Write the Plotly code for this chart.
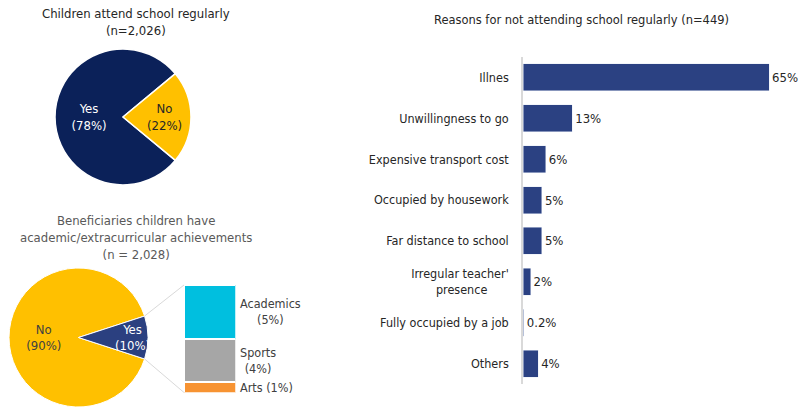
import math
import plotly.graph_objects as go

W, H = 798, 407
FONT = "DejaVu Sans Condensed, Liberation Sans, sans-serif"

# ---- data ----
attend_labels = ["Yes", "No"]
attend_values = [78, 22]

achieve_labels = ["No", "Yes"]
achieve_values = [90, 10]

yes_break_labels = ["Arts", "Sports", "Academics"]
yes_break_values = [1, 4, 5]

reasons = ["Illnes", "Unwillingness to go", "Expensive transport cost",
           "Occupied by housework", "Far distance to school",
           "Irregular teacher'<br>presence" + "\u00a0" * 6, "Fully occupied by a job", "Others"]
reason_values = [65, 13, 6, 5, 5, 2, 0.2, 4]


def X(px):
    return px / W


def Y(py):
    return 1 - py / H


fig = go.Figure()

# ---- top pie ----
rot_top = 270 - attend_values[0] / sum(attend_values) * 180
fig.add_trace(go.Pie(
    labels=attend_labels, values=attend_values, sort=False,
    direction="clockwise", rotation=rot_top,
    marker=dict(colors=["#0B2159", "#FFC000"], line=dict(color="white", width=1.5)),
    texttemplate="%{label}<br>(%{value}%)", textposition="inside",
    insidetextorientation="horizontal",
    insidetextfont=dict(color=["white", "#262626"], size=13, family=FONT),
    domain=dict(x=[X(55), X(191)], y=[Y(185), Y(49)]),
    showlegend=False, hoverinfo="label+percent",
))

# ---- bottom pie ----
pie2_cx, pie2_cy, pie2_r = 78.5, 337.5, 69.5
rot_bot = 270 - achieve_values[0] / sum(achieve_values) * 180
fig.add_trace(go.Pie(
    labels=achieve_labels, values=achieve_values, sort=False,
    direction="clockwise", rotation=rot_bot,
    marker=dict(colors=["#FFC000", "#2B4080"], line=dict(color="white", width=1)),
    texttemplate="%{label}<br>(%{value}%)", textposition="inside",
    insidetextorientation="horizontal",
    insidetextfont=dict(color=["#404040", "white"], size=13, family=FONT),
    domain=dict(x=[X(pie2_cx - pie2_r), X(pie2_cx + pie2_r)], y=[0, Y(pie2_cy - pie2_r)]),
    showlegend=False, hoverinfo="label+percent",
))

# ---- bar of pie (stacked) ----
seg_colors = {"Arts": "#F79332", "Sports": "#A6A6A6", "Academics": "#00BFDF"}
for lab, val in zip(yes_break_labels, yes_break_values):
    fig.add_trace(go.Bar(
        x=["Yes"], y=[val], name=lab, marker=dict(color=seg_colors[lab], line=dict(color="white", width=1.5)),
        xaxis="x2", yaxis="y2", showlegend=False, width=1,
    ))

bar_x0, bar_x1 = 184, 235.5
bar_top_py, bar_bot_py = 285, 392.5
total_yes = sum(yes_break_values)

# ---- right bar chart ----
fig.add_trace(go.Bar(
    y=reasons, x=reason_values, orientation="h",
    marker=dict(color="#2B4182"),
    texttemplate="%{x}%", textposition="outside", cliponaxis=False,
    textfont=dict(size=12, color="#262626", family=FONT),
    xaxis="x3", yaxis="y3", showlegend=False,
))

# connector lines from pie slice edges to stacked bar
half = achieve_values[1] / sum(achieve_values) * 180  # half angle of Yes slice (deg)
for sgn, target in [(1, bar_top_py), (-1, bar_bot_py)]:
    ang = math.radians(half) * sgn
    ex = pie2_cx + pie2_r * math.cos(ang)
    ey = pie2_cy - pie2_r * math.sin(ang)
    fig.add_shape(type="line", xref="paper", yref="paper",
                  x0=X(ex), y0=Y(ey), x1=X(bar_x0), y1=Y(target),
                  line=dict(color="#D9D9D9", width=1))

# labels for stacked segments
cum = 0
for lab, val in zip(yes_break_labels, yes_break_values):
    mid = cum + val / 2
    cum += val
    txt = f"{lab} ({val}%)" if val == min(yes_break_values) else f"{lab}<br>({val}%)"
    fig.add_annotation(xref="paper", yref="y2", x=X(bar_x1 + 2), y=mid, text=txt,
                       showarrow=False, xanchor="left", yanchor="middle", align="center",
                       font=dict(size=12.5, color="#404040", family=FONT))

# titles
fig.add_annotation(xref="paper", yref="paper", x=X(136), y=Y(22), xanchor="center", yanchor="middle",
                   text="Children attend school regularly<br>(n=2,026)", showarrow=False,
                   font=dict(size=13, color="#262626", family=FONT), align="center")
fig.add_annotation(xref="paper", yref="paper", x=X(136), y=Y(238), xanchor="center", yanchor="middle",
                   text="Beneficiaries children have<br>academic/extracurricular achievements<br>(n = 2,028)",
                   showarrow=False, font=dict(size=13, color="#595959", family=FONT), align="center")
fig.add_annotation(xref="paper", yref="paper", x=X(581), y=Y(19), xanchor="center", yanchor="middle",
                   text="Reasons for not attending school regularly (n=449)", showarrow=False,
                   font=dict(size=12.75, color="#262626", family=FONT))

fig.update_layout(
    width=W, height=H, margin=dict(l=0, r=0, t=0, b=0),
    paper_bgcolor="white", plot_bgcolor="white",
    font=dict(family=FONT, size=12.5, color="#262626"),
    barmode="stack", bargap=0.34,
    xaxis2=dict(domain=[X(bar_x0), X(bar_x1)], range=[-0.5, 0.5], visible=False, anchor="y2"),
    yaxis2=dict(domain=[Y(bar_bot_py), Y(bar_top_py)], range=[0, total_yes], visible=False, anchor="x2"),
    xaxis3=dict(domain=[X(523), 1], range=[0, (W - 523) / ((769 - 523) / 65)], visible=False, anchor="y3"),
    yaxis3=dict(domain=[Y(384), Y(57)], anchor="x3", autorange="reversed",
                showline=True, linecolor="#D9D9D9", linewidth=1.5, ticks="",
                ticklabelstandoff=10, tickfont=dict(size=12.5, color="#262626", family=FONT)),
    uniformtext=dict(minsize=13, mode="show"),
)

fig.write_html("out.html")
